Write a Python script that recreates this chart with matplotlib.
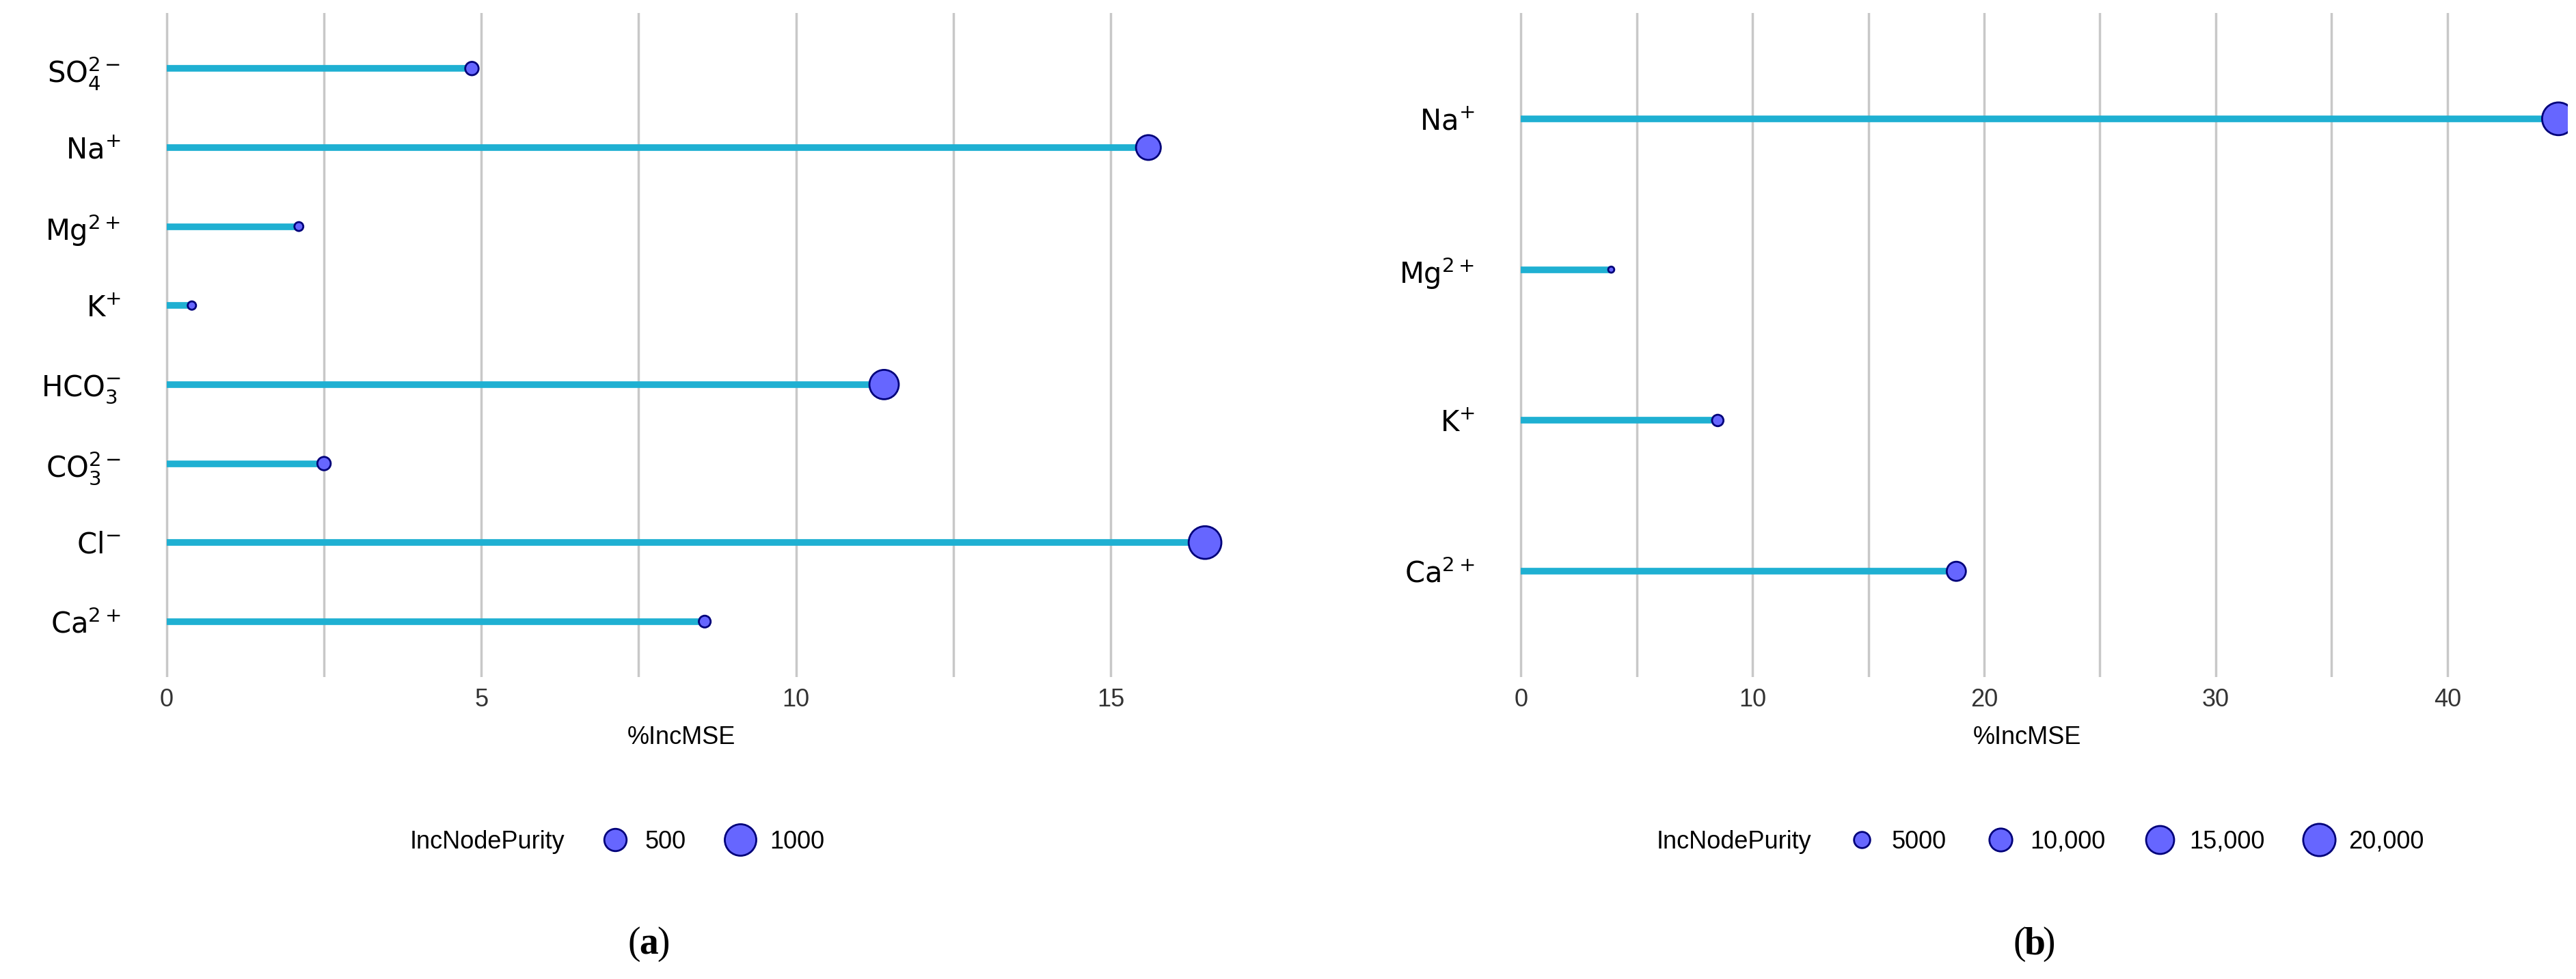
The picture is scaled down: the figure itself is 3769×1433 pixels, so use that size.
import matplotlib
matplotlib.use("Agg")
import matplotlib.pyplot as plt
from matplotlib.lines import Line2D

plt.rcParams["font.family"] = ["Liberation Sans Narrow", "Liberation Sans", "DejaVu Sans"]

# ---- data ----
ions_a = [r"$\mathrm{Ca^{2+}}$", r"$\mathrm{Cl^{-}}$", r"$\mathrm{CO_3^{2-}}$", r"$\mathrm{HCO_3^{-}}$",
          r"$\mathrm{K^{+}}$", r"$\mathrm{Mg^{2+}}$", r"$\mathrm{Na^{+}}$", r"$\mathrm{SO_4^{2-}}$"]
incmse_a = [8.55, 16.5, 2.5, 11.4, 0.4, 2.1, 15.6, 4.85]
purity_a = [140, 1080, 180, 870, 70, 80, 620, 180]
legend_a = [500, 1000]
legend_a_labels = ["500", "1000"]

ions_b = [r"$\mathrm{Ca^{2+}}$", r"$\mathrm{K^{+}}$", r"$\mathrm{Mg^{2+}}$", r"$\mathrm{Na^{+}}$"]
incmse_b = [18.8, 8.5, 3.9, 44.8]
purity_b = [7000, 2500, 700, 20500]
legend_b = [5000, 10000, 15000, 20000]
legend_b_labels = ["5000", "10,000", "15,000", "20,000"]

LINE = "#1fb0d2"
FACE = "#6666ff"
EDGE = "#00007a"

fig = plt.figure(figsize=(37.69, 14.33), dpi=100)
ax_a = fig.add_axes([80 / 1560, 1 - 410 / 593, 665 / 1560, 402 / 593])
ax_b = fig.add_axes([900 / 1560, 1 - 410 / 593, 655 / 1560, 402 / 593])


def lollipop(ax, labels, vals, purity, scale, xlim, xticks, minor):
    y = list(range(len(labels)))
    ax.hlines(y, 0, vals, color=LINE, lw=7, zorder=2)
    ax.scatter(vals, y, s=[p * scale for p in purity], color=FACE, edgecolors=EDGE,
               linewidths=2, zorder=3)
    ax.set_yticks(y)
    ax.set_yticklabels(labels, fontsize=30)
    ax.set_xticks(xticks)
    ax.set_xticklabels([str(t) for t in xticks], fontsize=26, color="#333333")
    ax.set_xticks(minor, minor=True)
    ax.set_xlim(*xlim)
    ax.set_ylim(-0.7, len(labels) - 0.3)
    ax.grid(axis="x", which="both", color="#c8c8c8", lw=2.5, zorder=0)
    ax.tick_params(length=0, which="both", pad=12)
    for sp in ax.spines.values():
        sp.set_visible(False)
    ax.set_xlabel("%IncMSE", fontsize=26, labelpad=14)


lollipop(ax_a, ions_a, incmse_a, purity_a, 1.1, (-0.55, 16.9), [0, 5, 10, 15], [2.5, 7.5, 12.5])
lollipop(ax_b, ions_b, incmse_b, purity_b, 0.058, (-1.5, 45.2), [0, 10, 20, 30, 40],
         [5, 15, 25, 35])


def size_legend(values, labels, scale, x_title, x_entries):
    y = 1 - 510 / 593
    fig.text(x_title, y, "IncNodePurity", fontsize=26, ha="left", va="center")
    handles = [Line2D([], [], ls="none", marker="o", markerfacecolor=FACE,
                      markeredgecolor=EDGE, markeredgewidth=2,
                      markersize=(v * scale) ** 0.5) for v in values]
    fig.legend(handles, labels, loc="center left", bbox_to_anchor=(x_entries, y),
               ncol=len(values), frameon=False, fontsize=26, handletextpad=0.2,
               columnspacing=1.2, borderpad=0)


size_legend(legend_a, legend_a_labels, 1.1, 248 / 1560, 350 / 1560)
size_legend(legend_b, legend_b_labels, 0.058, 1003 / 1560, 1105 / 1560)


def panel_label(x, letter):
    y = 1 - 572 / 593
    kw = dict(fontsize=40, family="Liberation Serif", va="center")
    fig.text(x, y, letter, weight="bold", ha="center", **kw)
    fig.text(x - 5 / 1560, y, "(", ha="right", **kw)
    fig.text(x + 5 / 1560, y, ")", ha="left", **kw)


panel_label(393 / 1560, "a")
panel_label(1232 / 1560, "b")

fig.savefig("out.png", dpi=100)
